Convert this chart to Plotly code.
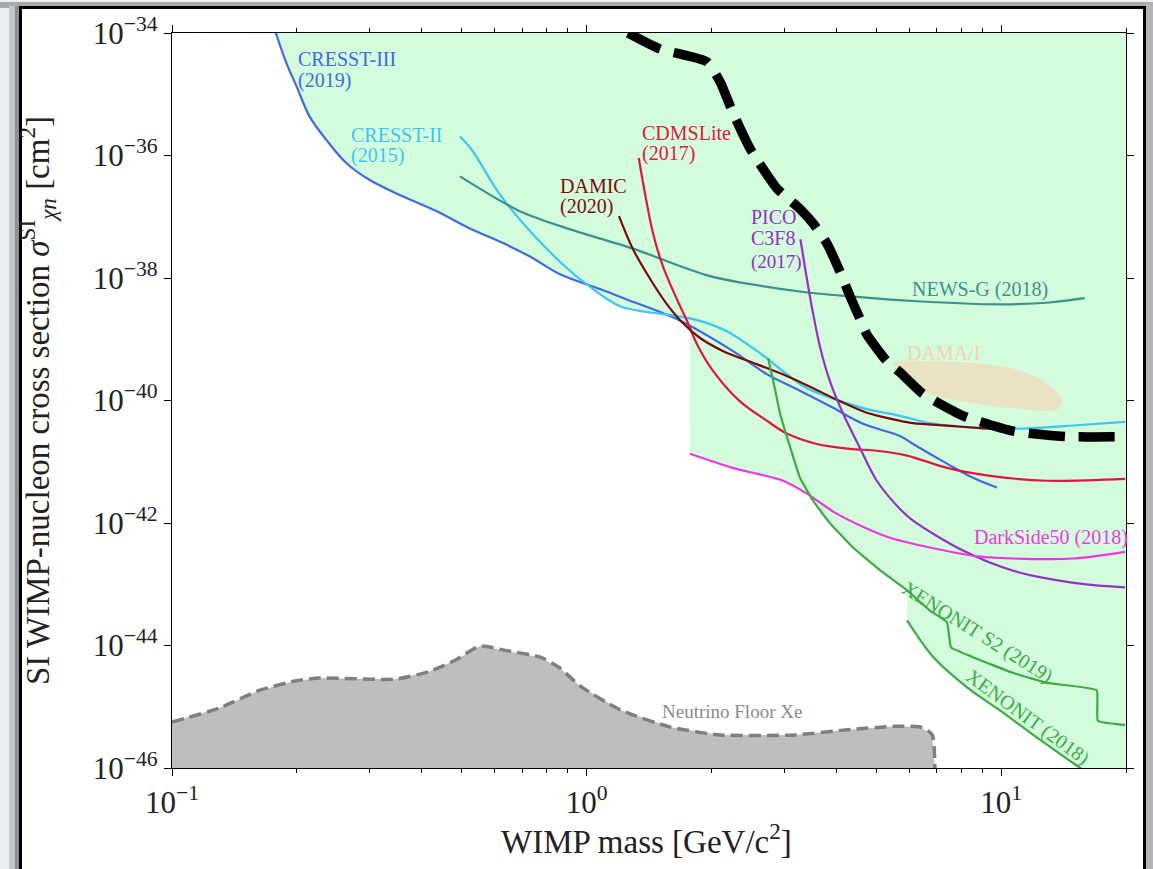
import numpy as np
import plotly.graph_objects as go

# ---------------- data: WIMP mass [GeV], log10 of SI cross section [cm^2] ----------------
cresst3_mass = [0.178, 0.189, 0.200, 0.215, 0.236, 0.264, 0.300, 0.361, 0.435, 0.523, 0.629, 0.730,
                0.863, 1.077, 1.25, 1.65, 2.25, 2.72, 3.27, 3.93, 4.64, 5.70, 6.13, 7.40, 8.55, 9.77]
cresst3_logsig = [-34.00, -34.50, -34.88, -35.37, -35.75, -36.13, -36.40, -36.67, -36.91, -37.19, -37.43, -37.65,
                  -37.94, -38.18, -38.35, -38.67, -39.19, -39.57, -39.84, -40.12, -40.38, -40.58, -40.71, -41.03,
                  -41.26, -41.42]

cresst2_mass = [0.495, 0.529, 0.618, 0.743, 0.897, 1.00, 1.205, 1.65, 1.878, 2.18, 2.44, 2.72, 3.04, 3.40,
                3.93, 4.74, 5.70, 6.73, 8.89, 11.1, 15.5, 19.9]
cresst2_logsig = [-35.69, -35.91, -36.64, -37.29, -37.84, -38.10, -38.46, -38.62, -38.70, -38.87, -39.08, -39.31,
                  -39.57, -39.80, -39.97, -40.14, -40.25, -40.37, -40.45, -40.46, -40.40, -40.35]

newsg_mass = [0.495, 0.690, 0.897, 1.294, 1.985, 3.27, 4.32, 6.26, 9.93, 13.1, 15.9]
newsg_logsig = [-36.34, -36.91, -37.19, -37.52, -37.97, -38.22, -38.30, -38.38, -38.43, -38.40, -38.33]

cdmslite_mass = [1.336, 1.383, 1.446, 1.528, 1.652, 1.747, 1.846, 2.02, 2.34, 2.72, 3.04, 3.59, 4.32, 5.01,
                 5.93, 7.40, 9.40, 12.9, 19.9]
cdmslite_logsig = [-36.04, -36.62, -37.27, -37.81, -38.35, -38.70, -39.08, -39.52, -40.01, -40.33, -40.54, -40.71,
                   -40.79, -40.82, -40.90, -41.10, -41.23, -41.31, -41.28]

damic_mass = [1.197, 1.294, 1.446, 1.563, 1.709, 1.878, 2.13, 2.58, 3.04, 3.52, 4.08, 4.74, 5.61, 6.13,
              7.40, 8.89, 9.93]
damic_logsig = [-36.99, -37.53, -38.09, -38.43, -38.74, -38.98, -39.19, -39.41, -39.60, -39.80, -40.01, -40.20,
                -40.32, -40.37, -40.41, -40.45, -40.46]

pico_mass = [3.28, 3.40, 3.52, 3.66, 3.86, 4.16, 4.56, 5.01, 5.70, 6.13, 8.09, 10.7, 15.5, 19.9]
pico_logsig = [-37.37, -38.02, -38.59, -39.14, -39.68, -40.22, -40.77, -41.31, -41.77, -41.96, -42.45, -42.78,
               -42.99, -43.05]

darkside_mass = [1.775, 2.25, 2.98, 3.40, 3.97, 4.74, 5.39, 6.73, 8.89, 10.7, 14.9, 19.9]
darkside_logsig = [-40.87, -41.10, -41.31, -41.52, -41.83, -42.09, -42.24, -42.40, -42.55, -42.58, -42.58, -42.47]

xenon_s2_mass = [2.74, 2.82, 2.93, 3.10, 3.27, 3.52, 3.86, 4.39, 5.10, 5.93, 6.73, 7.40, 7.57, 8.55,
                 10.7, 12.9, 17.0, 17.1, 19.9]
xenon_s2_logsig = [-39.31, -39.68, -40.22, -40.77, -41.26, -41.64, -42.00, -42.40, -42.77, -43.10, -43.43,
                   -43.62, -44.03, -44.19, -44.45, -44.61, -44.73, -45.23, -45.30]

xenon_2018_mass = [5.93, 6.84, 8.26, 9.93, 11.9, 15.5, 17.5, 20.0]
xenon_2018_logsig = [-43.59, -44.18, -44.68, -45.06, -45.45, -46.00, -46.25, -46.55]

nufloor_mass = [0.100, 0.130, 0.163, 0.198, 0.227, 0.345, 0.419, 0.482, 0.553, 0.636, 0.773, 0.863, 0.964,
                1.205, 1.59, 2.10, 3.18, 4.20, 5.55, 6.37, 6.81, 6.92]
nufloor_logsig = [-45.25, -45.02, -44.73, -44.58, -44.53, -44.55, -44.42, -44.24, -44.01, -44.08, -44.19, -44.37,
                  -44.66, -45.05, -45.33, -45.46, -45.46, -45.38, -45.32, -45.33, -45.45, -46.00]

dama_mass = [5.48, 6.73, 8.89, 11.1, 12.9, 14.0, 13.6, 10.7, 8.09, 6.73, 5.93, 5.48]
dama_logsig = [-39.39, -39.37, -39.41, -39.52, -39.73, -40.01, -40.14, -40.12, -40.01, -39.88, -39.63, -39.39]

black_mass = [1.259, 1.503, 1.950, 2.10, 2.25, 2.48, 2.88, 3.27, 3.52, 3.80, 4.08, 4.32, 4.56, 4.74, 5.30,
              5.70, 6.47, 8.09, 10.7, 14.4, 20.0]
black_logsig = [-34.00, -34.26, -34.47, -34.80, -35.29, -35.89, -36.54, -36.87, -37.11, -37.44, -37.89, -38.30,
                -38.66, -38.92, -39.36, -39.54, -39.89, -40.25, -40.50, -40.59, -40.59]

x_tickvals = [0.1, 1, 10]
x_ticktext = ["10<sup>\u22121</sup>", "10<sup>0</sup>", "10<sup>1</sup>"]
x_minor = [0.2, 0.3, 0.4, 0.5, 0.6, 0.7, 0.8, 0.9, 2, 3, 4, 5, 6, 7, 8, 9, 20]
y_exponents = [-46, -44, -42, -40, -38, -36, -34]
y_ticktext = ["10<sup>\u2212%d</sup>" % (-e) for e in y_exponents]

SERIF = "Liberation Serif"
GREEN_FILL = "#d3fcdd"

# name, mass, logsig, colour, spline smoothing
curves = [
    ("CRESST-III", cresst3_mass, cresst3_logsig, "#4169e1", 1.0),
    ("CRESST-II", cresst2_mass, cresst2_logsig, "#3cc6f2", 0.9),
    ("NEWS-G", newsg_mass, newsg_logsig, "#3b918c", 0.8),
    ("CDMSLite", cdmslite_mass, cdmslite_logsig, "#e0163e", 0.9),
    ("DAMIC", damic_mass, damic_logsig, "#7d0a0a", 0.9),
    ("PICO", pico_mass, pico_logsig, "#9530c4", 0.9),
    ("DarkSide50", darkside_mass, darkside_logsig, "#f036e2", 0.7),
    ("XENON1T S2", xenon_s2_mass, xenon_s2_logsig, "#3daa45", 0.3),
    ("XENON1T", xenon_2018_mass, xenon_2018_logsig, "#3daa45", 0.9),
]

# excluded region = envelope (minimum) of all limit curves
grid = np.linspace(-1.0, np.log10(20), 4000)
env = np.full_like(grid, -34.0)
for _, m, s, _c, _sm in curves:
    vals = np.interp(grid, np.log10(m), s, left=np.nan, right=np.nan)
    env = np.fmin(env, vals)
env = np.clip(env, -46.0, -34.0)

fig = go.Figure()

fill_x = list(10 ** grid) + [20.0, 0.1]
fill_y = list(10 ** env) + [1e-34, 1e-34]
fig.add_trace(go.Scatter(x=fill_x, y=fill_y, fill="toself", fillcolor=GREEN_FILL,
                         line=dict(width=0, color=GREEN_FILL), mode="lines", hoverinfo="skip"))

# neutrino floor
nf_x = nufloor_mass + [nufloor_mass[-1], nufloor_mass[0]]
nf_y = [10 ** v for v in nufloor_logsig] + [1e-46, 1e-46]
fig.add_trace(go.Scatter(x=nf_x, y=nf_y, fill="toself", fillcolor="#bebebe",
                         line=dict(width=0, color="#bebebe"), mode="lines", hoverinfo="skip"))
fig.add_trace(go.Scatter(x=nufloor_mass, y=[10 ** v for v in nufloor_logsig], mode="lines",
                         line=dict(color="#7f7f7f", width=3.5, dash="12px,6px", shape="spline", smoothing=0.6)))

# DAMA region
fig.add_trace(go.Scatter(x=dama_mass, y=[10 ** v for v in dama_logsig], fill="toself", fillcolor="#e9e3c3",
                         mode="lines", line=dict(color="#e9e3c3", width=1, shape="spline", smoothing=1.0)))

for name, m, s, c, sm in curves:
    fig.add_trace(go.Scatter(x=m, y=[10 ** v for v in s], mode="lines",
                             line=dict(color=c, width=2.2, shape="spline", smoothing=sm)))

fig.add_trace(go.Scatter(x=black_mass, y=[10 ** v for v in black_logsig], mode="lines",
                         line=dict(color="black", width=9.5, dash="36px,14px", shape="spline", smoothing=0.5)))


def lab(text, m, ls, color, size=20, angle=0, xanchor="left"):
    return dict(x=np.log10(m), y=ls, xref="x", yref="y", text=text, showarrow=False,
                font=dict(family=SERIF, size=size, color=color), xanchor=xanchor, yanchor="middle",
                textangle=angle)


annotations = [
    lab("CRESST-III", 0.199, -34.42, "#4169e1"),
    lab("(2019)", 0.199, -34.77, "#4169e1"),
    lab("CRESST-II", 0.267, -35.66, "#3cc6f2"),
    lab("(2015)", 0.267, -36.00, "#3cc6f2"),
    lab("CDMSLite", 1.345, -35.63, "#e0163e"),
    lab("(2017)", 1.345, -35.97, "#e0163e"),
    lab("DAMIC", 0.853, -36.49, "#7d0a0a"),
    lab("(2020)", 0.853, -36.83, "#7d0a0a"),
    lab("PICO", 2.46, -37.01, "#9530c4"),
    lab("C3F8", 2.46, -37.35, "#9530c4"),
    lab("(2017)", 2.46, -37.74, "#9530c4", size=19),
    lab("NEWS-G (2018)", 6.03, -38.18, "#3b918c"),
    lab("DAMA/I", 5.86, -39.23, "#f6d2b0"),
    lab("DarkSide50 (2018)", 8.51, -42.24, "#f036e2"),
    lab("Neutrino Floor Xe", 1.503, -45.07, "#8a8a8a", size=19),
    lab("XENONIT S2 (2019)", 8.79, -43.79, "#3daa45", angle=32, xanchor="center"),
    lab("XENONIT (2018)", 11.6, -45.18, "#3daa45", angle=36, xanchor="center"),
]

# axis titles (placed in paper coords)
annotations.append(dict(x=(646 - 172) / 954, y=(768 - 839) / 737, xref="paper", yref="paper",
                        text="WIMP mass [GeV/c<sup>2</sup>]", showarrow=False,
                        font=dict(family=SERIF, size=33, color="#222"), xanchor="center", yanchor="middle"))
annotations.append(dict(x=(38 - 172) / 954, y=(768 - 400) / 737, xref="paper", yref="paper",
                        text="SI WIMP-nucleon cross section <i>\u03c3</i><sup>SI</sup><sub><i>\u03c7n</i></sub> [cm<sup>2</sup>]",
                        showarrow=False, textangle=-90,
                        font=dict(family=SERIF, size=33, color="#222"), xanchor="center", yanchor="middle"))


def px2x(px):
    return (px - 172) / 954


def py2y(py):
    return (768 - py) / 737


shapes = [
    # shadow strips
    dict(type="rect", xref="paper", yref="paper", x0=px2x(0), x1=px2x(1153), y0=py2y(0), y1=py2y(6),
         fillcolor="#a9a9ab", line=dict(width=0), layer="below"),
    dict(type="rect", xref="paper", yref="paper", x0=px2x(1145), x1=px2x(1153), y0=py2y(0), y1=py2y(900),
         fillcolor="#b4b4b6", line=dict(width=0), layer="below"),
    dict(type="rect", xref="paper", yref="paper", x0=px2x(9), x1=px2x(15), y0=py2y(4), y1=py2y(900),
         fillcolor="#c4c6cb", line=dict(width=0), layer="below"),
    dict(type="rect", xref="paper", yref="paper", x0=px2x(15), x1=px2x(20), y0=py2y(4), y1=py2y(900),
         fillcolor="#8e9095", line=dict(width=0), layer="below"),
    # figure frame
    dict(type="rect", xref="paper", yref="paper", x0=px2x(20.5), x1=px2x(1144.5), y0=py2y(5.5), y1=py2y(900),
         fillcolor="white", line=dict(width=3, color="black"), layer="below"),
]

axis_common = dict(showgrid=False, zeroline=False, showline=True, linecolor="black", linewidth=1.3,
                   mirror="allticks", ticks="outside", tickcolor="black", tickwidth=1.2,
                   tickfont=dict(family=SERIF, size=31, color="#222"))

fig.update_layout(
    width=1153, height=869,
    margin=dict(l=172, r=27, t=31, b=101),
    paper_bgcolor="#eceef2", plot_bgcolor="white",
    showlegend=False,
    annotations=annotations,
    shapes=shapes,
    xaxis=dict(type="log", range=[-1, np.log10(20)], tickvals=x_tickvals, ticktext=x_ticktext, ticklen=7,
               minor=dict(tickvals=x_minor, ticks="outside", ticklen=4, tickcolor="black", tickwidth=1),
               **axis_common),
    yaxis=dict(type="log", range=[-46, -34], tickvals=[10.0 ** e for e in y_exponents], ticktext=y_ticktext,
               ticklen=7, **axis_common),
)

fig.write_html("out.html")
